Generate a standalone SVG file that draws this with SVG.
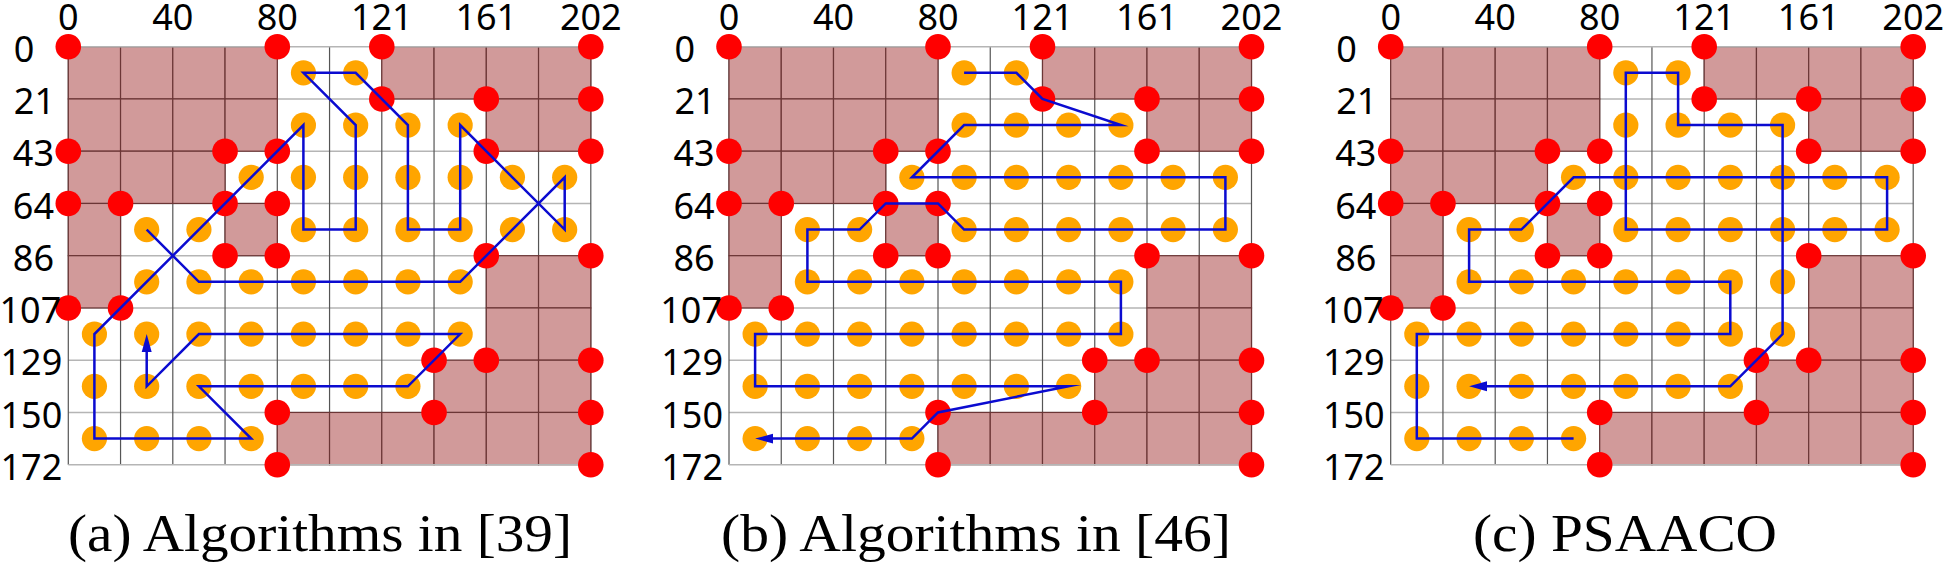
<svg xmlns="http://www.w3.org/2000/svg" xmlns:xlink="http://www.w3.org/1999/xlink" width="1949" height="564" viewBox="0 0 1949 564">
<style>
.vl{stroke:#555;stroke-width:1.2}
.hl{stroke:#b5b5b5;stroke-width:1.6}
.ob{fill:#d19a9a;stroke:#6b3636;stroke-width:1.2}
.fr{fill:#ffa500}
.rd{fill:#ff0000}
.lb{font-family:"Noto Sans","DejaVu Sans",sans-serif;font-size:36px;fill:#000}
.ct{text-anchor:middle}
.re{text-anchor:end}
.cap{font-family:"Liberation Serif","Times New Roman",serif;font-size:53px;fill:#000}
.route{fill:none;stroke:#0b0bd0;stroke-width:2.5;stroke-linejoin:miter;stroke-miterlimit:20;marker-end:url(#arr)}
</style>
<defs>
<marker id="arr" markerUnits="userSpaceOnUse" viewBox="0 -6 18 12" markerWidth="18" markerHeight="12" refX="6" refY="0" orient="auto"><path d="M0,-5 L18,0 L0,5 z" fill="#0b0bd0"/></marker>
<g id="map">
<g id="gridlines">
<line class="hl" x1="0" y1="52.25" x2="522.5" y2="52.25"/>
<line class="hl" x1="0" y1="104.5" x2="522.5" y2="104.5"/>
<line class="hl" x1="0" y1="156.75" x2="522.5" y2="156.75"/>
<line class="hl" x1="0" y1="209" x2="522.5" y2="209"/>
<line class="hl" x1="0" y1="261.25" x2="522.5" y2="261.25"/>
<line class="hl" x1="0" y1="313.5" x2="522.5" y2="313.5"/>
<line class="hl" x1="0" y1="365.75" x2="522.5" y2="365.75"/>
<line class="vl" x1="0" y1="0" x2="0" y2="418"/>
<line class="vl" x1="52.25" y1="0" x2="52.25" y2="418"/>
<line class="vl" x1="104.5" y1="0" x2="104.5" y2="418"/>
<line class="vl" x1="156.75" y1="0" x2="156.75" y2="418"/>
<line class="vl" x1="209" y1="0" x2="209" y2="418"/>
<line class="vl" x1="261.25" y1="0" x2="261.25" y2="418"/>
<line class="vl" x1="313.5" y1="0" x2="313.5" y2="418"/>
<line class="vl" x1="365.75" y1="0" x2="365.75" y2="418"/>
<line class="vl" x1="418" y1="0" x2="418" y2="418"/>
<line class="vl" x1="470.25" y1="0" x2="470.25" y2="418"/>
<line class="vl" x1="522.5" y1="0" x2="522.5" y2="418"/>
</g>
<g id="obstacles">
<rect class="ob" x="0" y="0" width="52.25" height="52.25"/>
<rect class="ob" x="52.25" y="0" width="52.25" height="52.25"/>
<rect class="ob" x="104.5" y="0" width="52.25" height="52.25"/>
<rect class="ob" x="156.75" y="0" width="52.25" height="52.25"/>
<rect class="ob" x="313.5" y="0" width="52.25" height="52.25"/>
<rect class="ob" x="365.75" y="0" width="52.25" height="52.25"/>
<rect class="ob" x="418" y="0" width="52.25" height="52.25"/>
<rect class="ob" x="470.25" y="0" width="52.25" height="52.25"/>
<rect class="ob" x="0" y="52.25" width="52.25" height="52.25"/>
<rect class="ob" x="52.25" y="52.25" width="52.25" height="52.25"/>
<rect class="ob" x="104.5" y="52.25" width="52.25" height="52.25"/>
<rect class="ob" x="156.75" y="52.25" width="52.25" height="52.25"/>
<rect class="ob" x="418" y="52.25" width="52.25" height="52.25"/>
<rect class="ob" x="470.25" y="52.25" width="52.25" height="52.25"/>
<rect class="ob" x="0" y="104.5" width="52.25" height="52.25"/>
<rect class="ob" x="52.25" y="104.5" width="52.25" height="52.25"/>
<rect class="ob" x="104.5" y="104.5" width="52.25" height="52.25"/>
<rect class="ob" x="0" y="156.75" width="52.25" height="52.25"/>
<rect class="ob" x="156.75" y="156.75" width="52.25" height="52.25"/>
<rect class="ob" x="0" y="209" width="52.25" height="52.25"/>
<rect class="ob" x="418" y="209" width="52.25" height="52.25"/>
<rect class="ob" x="470.25" y="209" width="52.25" height="52.25"/>
<rect class="ob" x="418" y="261.25" width="52.25" height="52.25"/>
<rect class="ob" x="470.25" y="261.25" width="52.25" height="52.25"/>
<rect class="ob" x="365.75" y="313.5" width="52.25" height="52.25"/>
<rect class="ob" x="418" y="313.5" width="52.25" height="52.25"/>
<rect class="ob" x="470.25" y="313.5" width="52.25" height="52.25"/>
<rect class="ob" x="209" y="365.75" width="52.25" height="52.25"/>
<rect class="ob" x="261.25" y="365.75" width="52.25" height="52.25"/>
<rect class="ob" x="313.5" y="365.75" width="52.25" height="52.25"/>
<rect class="ob" x="365.75" y="365.75" width="52.25" height="52.25"/>
<rect class="ob" x="418" y="365.75" width="52.25" height="52.25"/>
<rect class="ob" x="470.25" y="365.75" width="52.25" height="52.25"/>
</g>
<line class="hl" x1="0" y1="0" x2="522.5" y2="0"/>
<line class="hl" x1="0" y1="418" x2="522.5" y2="418"/>
<g id="free-cells">
<circle class="fr" cx="235.125" cy="26.125" r="12.6"/><circle class="fr" cx="287.375" cy="26.125" r="12.6"/>
<circle class="fr" cx="235.125" cy="78.375" r="12.6"/><circle class="fr" cx="287.375" cy="78.375" r="12.6"/><circle class="fr" cx="339.625" cy="78.375" r="12.6"/><circle class="fr" cx="391.875" cy="78.375" r="12.6"/>
<circle class="fr" cx="182.875" cy="130.625" r="12.6"/><circle class="fr" cx="235.125" cy="130.625" r="12.6"/><circle class="fr" cx="287.375" cy="130.625" r="12.6"/><circle class="fr" cx="339.625" cy="130.625" r="12.6"/><circle class="fr" cx="391.875" cy="130.625" r="12.6"/><circle class="fr" cx="444.125" cy="130.625" r="12.6"/><circle class="fr" cx="496.375" cy="130.625" r="12.6"/>
<circle class="fr" cx="78.375" cy="182.875" r="12.6"/><circle class="fr" cx="130.625" cy="182.875" r="12.6"/><circle class="fr" cx="235.125" cy="182.875" r="12.6"/><circle class="fr" cx="287.375" cy="182.875" r="12.6"/><circle class="fr" cx="339.625" cy="182.875" r="12.6"/><circle class="fr" cx="391.875" cy="182.875" r="12.6"/><circle class="fr" cx="444.125" cy="182.875" r="12.6"/><circle class="fr" cx="496.375" cy="182.875" r="12.6"/>
<circle class="fr" cx="78.375" cy="235.125" r="12.6"/><circle class="fr" cx="130.625" cy="235.125" r="12.6"/><circle class="fr" cx="182.875" cy="235.125" r="12.6"/><circle class="fr" cx="235.125" cy="235.125" r="12.6"/><circle class="fr" cx="287.375" cy="235.125" r="12.6"/><circle class="fr" cx="339.625" cy="235.125" r="12.6"/><circle class="fr" cx="391.875" cy="235.125" r="12.6"/>
<circle class="fr" cx="26.125" cy="287.375" r="12.6"/><circle class="fr" cx="78.375" cy="287.375" r="12.6"/><circle class="fr" cx="130.625" cy="287.375" r="12.6"/><circle class="fr" cx="182.875" cy="287.375" r="12.6"/><circle class="fr" cx="235.125" cy="287.375" r="12.6"/><circle class="fr" cx="287.375" cy="287.375" r="12.6"/><circle class="fr" cx="339.625" cy="287.375" r="12.6"/><circle class="fr" cx="391.875" cy="287.375" r="12.6"/>
<circle class="fr" cx="26.125" cy="339.625" r="12.6"/><circle class="fr" cx="78.375" cy="339.625" r="12.6"/><circle class="fr" cx="130.625" cy="339.625" r="12.6"/><circle class="fr" cx="182.875" cy="339.625" r="12.6"/><circle class="fr" cx="235.125" cy="339.625" r="12.6"/><circle class="fr" cx="287.375" cy="339.625" r="12.6"/><circle class="fr" cx="339.625" cy="339.625" r="12.6"/>
<circle class="fr" cx="26.125" cy="391.875" r="12.6"/><circle class="fr" cx="78.375" cy="391.875" r="12.6"/><circle class="fr" cx="130.625" cy="391.875" r="12.6"/><circle class="fr" cx="182.875" cy="391.875" r="12.6"/>
</g>
<g id="corners">
<circle class="rd" cx="0" cy="0" r="12.8"/><circle class="rd" cx="209" cy="0" r="12.8"/><circle class="rd" cx="313.5" cy="0" r="12.8"/><circle class="rd" cx="522.5" cy="0" r="12.8"/>
<circle class="rd" cx="313.5" cy="52.25" r="12.8"/><circle class="rd" cx="418" cy="52.25" r="12.8"/><circle class="rd" cx="522.5" cy="52.25" r="12.8"/>
<circle class="rd" cx="0" cy="104.5" r="12.8"/><circle class="rd" cx="156.75" cy="104.5" r="12.8"/><circle class="rd" cx="209" cy="104.5" r="12.8"/><circle class="rd" cx="418" cy="104.5" r="12.8"/><circle class="rd" cx="522.5" cy="104.5" r="12.8"/>
<circle class="rd" cx="0" cy="156.75" r="12.8"/><circle class="rd" cx="52.25" cy="156.75" r="12.8"/><circle class="rd" cx="156.75" cy="156.75" r="12.8"/><circle class="rd" cx="209" cy="156.75" r="12.8"/>
<circle class="rd" cx="156.75" cy="209" r="12.8"/><circle class="rd" cx="209" cy="209" r="12.8"/><circle class="rd" cx="418" cy="209" r="12.8"/><circle class="rd" cx="522.5" cy="209" r="12.8"/>
<circle class="rd" cx="0" cy="261.25" r="12.8"/><circle class="rd" cx="52.25" cy="261.25" r="12.8"/>
<circle class="rd" cx="365.75" cy="313.5" r="12.8"/><circle class="rd" cx="418" cy="313.5" r="12.8"/><circle class="rd" cx="522.5" cy="313.5" r="12.8"/>
<circle class="rd" cx="209" cy="365.75" r="12.8"/><circle class="rd" cx="365.75" cy="365.75" r="12.8"/><circle class="rd" cx="522.5" cy="365.75" r="12.8"/>
<circle class="rd" cx="209" cy="418" r="12.8"/><circle class="rd" cx="522.5" cy="418" r="12.8"/>
</g>
<g id="axis-labels" class="lb">
<text class="ct" x="0" y="-16.7">0</text>
<text class="ct" x="104.5" y="-16.7">40</text>
<text class="ct" x="209" y="-16.7">80</text>
<text class="ct" x="313.5" y="-16.7">121</text>
<text class="ct" x="418" y="-16.7">161</text>
<text class="ct" x="522.5" y="-16.7">202</text>
<text x="-54.5" y="15.3">0</text>
<text x="-54.5" y="67.55">21</text>
<text x="-55.5" y="119.8">43</text>
<text x="-55.5" y="172.05">64</text>
<text x="-55.5" y="224.3">86</text>
<text class="re" x="-7" y="276.55">107</text>
<text class="re" x="-6" y="328.8">129</text>
<text class="re" x="-6" y="381.05">150</text>
<text class="re" x="-6" y="433.3">172</text>
</g>
</g>
</defs>
<rect x="0" y="0" width="1949" height="564" fill="#fff"/>
<g id="panel-a"><use xlink:href="#map" href="#map" x="68.3" y="46.7"/></g>
<g id="panel-b"><use xlink:href="#map" href="#map" x="729" y="46.7"/></g>
<g id="panel-c"><use xlink:href="#map" href="#map" x="1390.7" y="46.7"/></g>
<g id="connectors">
<path id="route-a" class="route" transform="translate(68.3,46.7)" d="M78.4,182.9 L130.6,235.1 L391.9,235.1 L496.4,130.6 L496.4,182.9 L391.9,78.4 L391.9,182.9 L339.6,182.9 L339.6,78.4 L287.4,26.1 L235.1,26.1 L287.4,78.4 L287.4,182.9 L235.1,182.9 L235.1,78.4 L26.1,287.4 L26.1,391.9 L182.9,391.9 L130.6,339.6 L339.6,339.6 L391.9,287.4 L130.6,287.4 L78.4,339.6 L78.4,299.4"/>
<path id="route-b" class="route" transform="translate(729,46.7)" d="M235.1,26.1 L287.4,26.1 L313.5,52.25 L391.9,78.4 L235.1,78.4 L182.9,130.6 L496.4,130.6 L496.4,182.9 L235.1,182.9 L209,156.75 L156.75,156.75 L130.6,182.9 L78.4,182.9 L78.4,235.1 L391.9,235.1 L391.9,287.4 L26.1,287.4 L26.1,339.6 L339.6,339.6 L209,365.75 L182.9,391.9 L38.1,391.9"/>
<path id="route-c" class="route" transform="translate(1390.7,46.7)" d="M182.9,391.9 L26.1,391.9 L26.1,287.4 L339.6,287.4 L339.6,235.1 L78.4,235.1 L78.4,182.9 L130.6,182.9 L182.9,130.6 L496.4,130.6 L496.4,182.9 L235.1,182.9 L235.1,26.1 L287.4,26.1 L287.4,78.4 L391.9,78.4 L391.9,287.4 L339.6,339.6 L90.4,339.6"/>
</g>
<g id="captions" class="cap">
<text x="68" y="551" textLength="504" lengthAdjust="spacingAndGlyphs">(a) Algorithms in [39]</text>
<text x="721" y="551" textLength="510" lengthAdjust="spacingAndGlyphs">(b) Algorithms in [46]</text>
<text x="1473" y="551" textLength="304" lengthAdjust="spacingAndGlyphs">(c) PSAACO</text>
</g>
</svg>
